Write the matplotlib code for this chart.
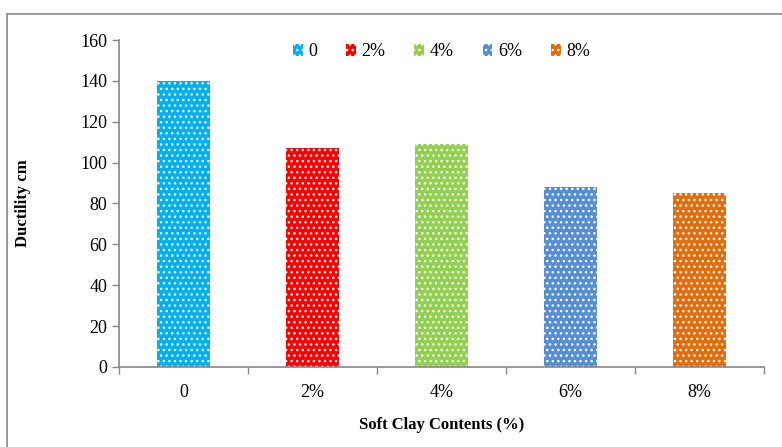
import matplotlib.pyplot as plt
from matplotlib.patches import Rectangle
import numpy as np

categories = ['0', '2%', '4%', '6%', '8%']
ductility = [140, 107, 109, 88, 85]
colors = ['#00B0F0', '#FF0000', '#92D050', '#558ED5', '#E46C0A']

plt.rcParams['font.family'] = ['Liberation Serif', 'DejaVu Serif']
plt.rcParams['hatch.linewidth'] = 1.0

fig = plt.figure(figsize=(7.82, 4.47), dpi=100)
ax = fig.add_axes([0.152, 0.179, 0.825, 0.7315])

# outer chart frame (only left and top visible in the original)
fig.patches.append(Rectangle((7 / 782, -0.1), 1.2, 1 - 14 / 447 + 0.1,
                             transform=fig.transFigure, fill=False,
                             edgecolor='#868686', linewidth=1.2))

x = np.arange(len(categories))
for i, (cat, val) in enumerate(zip(categories, ductility)):
    ax.bar(x[i], val, width=0.41, color=colors[i], edgecolor='white',
           linewidth=0, hatch='...', label=cat)

ax.set_xlim(-0.5, len(categories) - 0.5)
ax.set_ylim(0, 160)
ax.set_yticks(range(0, 161, 20))
ax.set_xticks(x)
ax.set_xticklabels(categories)
ax.set_xticks(np.arange(-0.5, len(categories), 1), minor=True)
ax.tick_params(axis='x', which='major', length=0, pad=12, labelsize=13)
ax.tick_params(axis='x', which='minor', length=5, color='#868686', width=1)
ax.tick_params(axis='y', length=5, color='#868686', width=1, labelsize=13)

for side in ['top', 'right']:
    ax.spines[side].set_visible(False)
for side in ['left', 'bottom']:
    ax.spines[side].set_color('#868686')
    ax.spines[side].set_linewidth(1.2)

ax.set_ylabel('Ductility cm', fontsize=12, fontweight='bold', labelpad=35)
ax.set_xlabel('Soft Clay Contents (%)', fontsize=12, fontweight='bold', labelpad=12)

ax.legend(loc='upper center', bbox_to_anchor=(0.5, 1.04), ncol=5, frameon=False,
          fontsize=13, handlelength=0.55, handleheight=0.6, handletextpad=0.3,
          columnspacing=1.6)

fig.savefig('out.png', dpi=100)
